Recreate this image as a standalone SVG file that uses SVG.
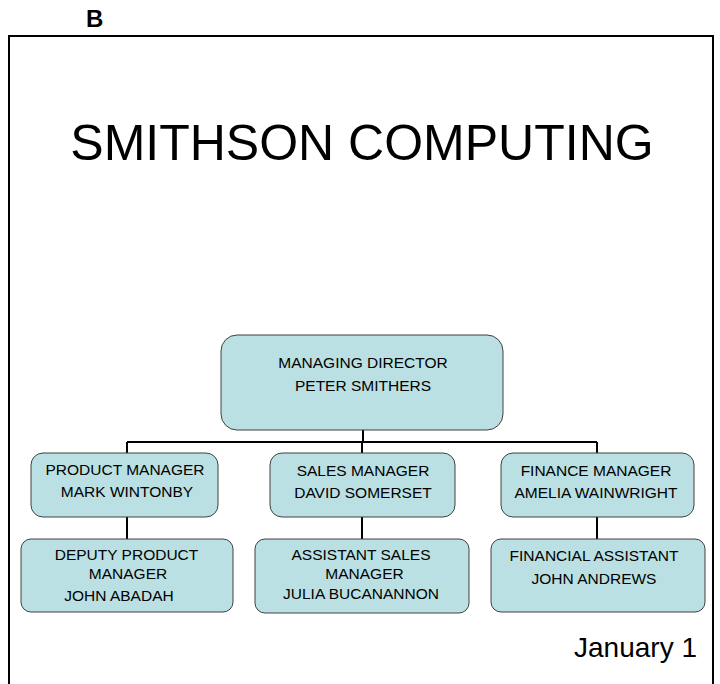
<svg xmlns="http://www.w3.org/2000/svg" width="720" height="684" viewBox="0 0 720 684">
<style>
.box{fill:#BBE0E3;stroke:#404040;stroke-width:1}
.t{font-family:"Liberation Sans",Arial,sans-serif;font-size:15.5px;fill:#000;text-anchor:middle}
.c{stroke:#000;stroke-width:2;fill:none}
</style>
<rect width="720" height="684" fill="#fff"/>
<text x="86" y="27" font-family="Liberation Sans, Arial, sans-serif" font-size="24" font-weight="bold">B</text>
<path d="M9,684 V36 H713 V684" fill="none" stroke="#000" stroke-width="2"/>
<text x="362" y="160" font-family="Liberation Sans, Arial, sans-serif" font-size="50" text-anchor="middle">SMITHSON COMPUTING</text>
<g id="connectors" class="c">
<path d="M363,430 V442"/>
<path d="M127,442 H597"/>
<path d="M127,442 V453"/>
<path d="M362,442 V453"/>
<path d="M597,442 V453"/>
<path d="M127,517 V539"/>
<path d="M362,517 V539"/>
<path d="M597,517 V539"/>
</g>
<g id="md">
<rect class="box" x="221" y="335" width="282" height="95" rx="16"/>
<text class="t" x="363" y="368">MANAGING DIRECTOR</text>
<text class="t" x="363" y="391">PETER SMITHERS</text>
</g>
<g id="pm">
<rect class="box" x="31" y="453" width="187" height="64" rx="12"/>
<text class="t" x="125" y="475">PRODUCT MANAGER</text>
<text class="t" x="127" y="497">MARK WINTONBY</text>
</g>
<g id="sm">
<rect class="box" x="270" y="453" width="185" height="64" rx="12"/>
<text class="t" x="363" y="476">SALES MANAGER</text>
<text class="t" x="363" y="498">DAVID SOMERSET</text>
</g>
<g id="fm">
<rect class="box" x="501" y="453" width="193" height="64" rx="12"/>
<text class="t" x="596" y="476">FINANCE MANAGER</text>
<text class="t" x="596" y="498">AMELIA WAINWRIGHT</text>
</g>
<g id="dpm">
<rect class="box" x="21" y="539" width="212" height="73" rx="10"/>
<text class="t" x="126.5" y="560">DEPUTY PRODUCT</text>
<text class="t" x="128" y="579">MANAGER</text>
<text class="t" x="119" y="601">JOHN ABADAH</text>
</g>
<g id="asm">
<rect class="box" x="255" y="539" width="214" height="74" rx="10"/>
<text class="t" x="361" y="560">ASSISTANT SALES</text>
<text class="t" x="364.5" y="579">MANAGER</text>
<text class="t" x="361" y="599">JULIA BUCANANNON</text>
</g>
<g id="fa">
<rect class="box" x="491" y="539" width="214" height="73" rx="10"/>
<text class="t" x="594" y="561">FINANCIAL ASSISTANT</text>
<text class="t" x="594" y="584">JOHN ANDREWS</text>
</g>
<text x="697" y="657" font-family="Liberation Sans, Arial, sans-serif" font-size="28" text-anchor="end">January 1</text>
</svg>
